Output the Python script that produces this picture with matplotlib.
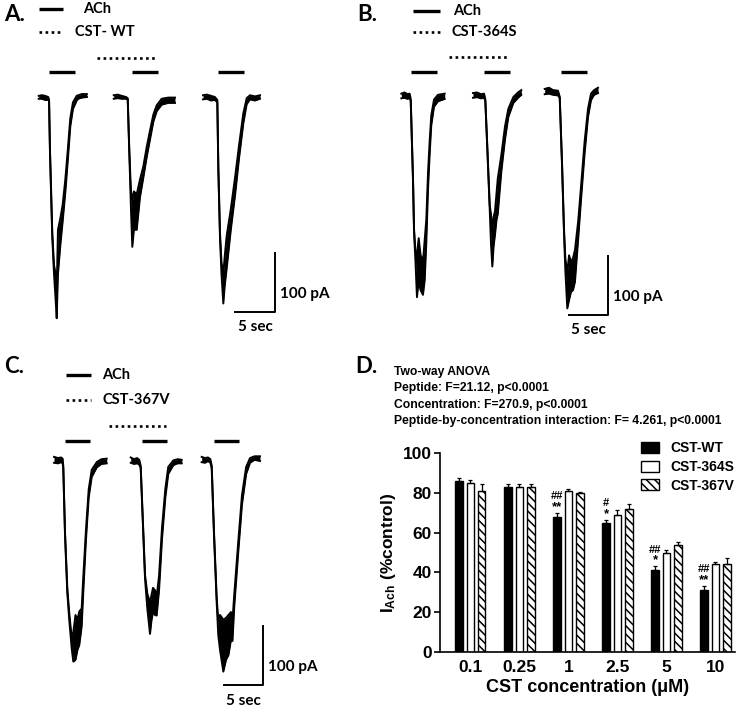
import numpy as np
import matplotlib
matplotlib.use('Agg')
import matplotlib.pyplot as plt

# ---------------- panel D: bar chart data ----------------
concentrations = ['0.1', '0.25', '1', '2.5', '5', '10']
peptides = ['CST-WT', 'CST-364S', 'CST-367V']
wt_mean = [86, 83, 68, 65, 41, 31]
wt_sem = [1.5, 1.2, 2.0, 1.3, 2.0, 2.0]
s364_mean = [85, 83, 81, 69, 50, 44]
s364_sem = [1.5, 1.5, 1.0, 2.3, 1.5, 1.0]
v367_mean = [81, 83, 80, 72, 54, 44]
v367_sem = [3.5, 1.2, 0.6, 2.5, 1.5, 3.0]
wt_star = ['', '', '**', '*', '*', '**']
wt_hash = ['', '', '##', '#', '##', '##']
anova_lines = ['Two-way ANOVA',
               'Peptide: F=21.12, p<0.0001',
               'Concentration: F=270.9, p<0.0001',
               'Peptide-by-concentration interaction: F= 4.261, p<0.0001']

# ---------------- panels A-C: current traces (time s, current pA) ----------------
# each trace: time, upper edge and lower edge of the noisy recording
a1_t = [1.1, 1.5, 1.9, 2.3, 2.41, 2.53, 2.82, 3.04, 3.25, 3.38, 3.54, 3.85, 4.14, 4.47, 4.81, 5.1, 5.44, 5.91, 6.11, 6.58, 7.2]
a1_hi = [2, 3, 2, 0, -4, -90, -230, -285, -300, -330, -225, -205, -182, -140, -85, -36, -9, 2, 3, 5, 5]
a1_lo = [-3, -3, -5, -5, -6, -95, -238, -300, -345, -375, -300, -250, -210, -162, -103, -50, -20, -6, -3, -1, 0]

a2_t = [10.6, 11.1, 11.6, 12.15, 12.37, 12.57, 12.78, 12.95, 13.15, 13.51, 13.92, 14.34, 14.77, 15.19, 15.61, 16.04, 16.67, 17.5, 18.35]
a2_hi = [3, 4, 2, 0, -2, -90, -160, -175, -160, -165, -140, -118, -85, -57, -30, -14, -3, -1, -1]
a2_lo = [-3, -2, -3, -3, -4, -95, -190, -254, -225, -225, -170, -137, -102, -72, -42, -24, -13, -10, -10]

a3_t = [21.9, 22.4, 22.9, 23.4, 23.71, 23.84, 24.05, 24.24, 24.47, 24.65, 24.9, 25.42, 25.97, 26.46, 27.0, 27.43, 27.85, 28.48, 29.11]
a3_hi = [3, 4, 2, 0, -5, -118, -230, -280, -300, -270, -235, -190, -135, -82, -28, -2, 3, 1, 3]
a3_lo = [-4, -3, -6, -5, -9, -124, -240, -300, -350, -320, -290, -225, -165, -104, -45, -12, -4, -6, -3]

b1_t = [0.8, 1.2, 1.6, 1.85, 1.99, 2.28, 2.41, 2.59, 2.78, 3.0, 3.23, 3.54, 3.76, 3.96, 4.18, 4.39, 4.59, 4.94, 5.44, 6.29]
b1_hi = [4, 6, 3, 4, -5, -140, -225, -265, -269, -241, -269, -281, -244, -210, -130, -76, -33, -6, 2, 4]
b1_lo = [-4, -3, -5, -3, -8, -144, -230, -280, -341, -312, -329, -337, -312, -250, -158, -98, -50, -18, -9, -5]

b2_t = [9.87, 10.38, 10.89, 11.27, 11.43, 11.68, 11.99, 12.15, 12.32, 12.48, 12.66, 12.85, 13.01, 13.46, 13.92, 14.34, 14.97, 15.57, 15.99]
b2_hi = [5, 6, 3, 4, -5, -84, -185, -200, -230, -205, -195, -165, -140, -100, -52, -22, -2, 6, 10]
b2_lo = [-3, -2, -4, -3, -8, -88, -192, -250, -289, -255, -235, -210, -200, -128, -74, -36, -12, -3, 2]

b3_t = [18.95, 19.49, 20.0, 20.63, 20.85, 21.14, 21.39, 21.56, 21.81, 22.03, 22.28, 22.53, 22.78, 23.19, 23.58, 24.01, 24.43, 24.81, 25.2, 25.7]
b3_hi = [12, 14, 10, 9, -1, -112, -224, -275, -300, -270, -281, -275, -261, -212, -148, -76, -22, 4, 10, 14]
b3_lo = [3, 4, 2, 1, -3, -116, -230, -295, -360, -346, -332, -329, -315, -242, -170, -96, -36, -7, 2, 5]

c1_t = [0.51, 1.01, 1.4, 1.6, 1.68, 1.9, 2.19, 2.44, 2.75, 2.95, 3.23, 3.48, 3.71, 4.01, 4.22, 4.56, 4.9, 5.28, 5.91, 6.5, 7.18]
c1_hi = [7, 5, 6, 4, -8, -120, -215, -258, -300, -290, -261, -269, -255, -250, -195, -115, -48, -15, -2, 3, 4]
c1_lo = [-3, -4, -2, -4, -12, -126, -224, -270, -318, -340, -337, -320, -312, -280, -220, -132, -62, -27, -11, -5, -4]

c2_t = [10.22, 10.63, 11.01, 11.3, 11.48, 11.73, 12.03, 12.32, 12.66, 12.85, 13.04, 13.29, 13.5, 13.8, 14.18, 14.6, 14.97, 15.61, 16.14, 16.67]
c2_hi = [6, 3, 5, 2, -8, -92, -193, -225, -240, -227, -215, -219, -230, -195, -113, -47, -10, 1, 3, 2]
c2_lo = [-3, -5, -4, -6, -12, -97, -200, -250, -293, -270, -256, -261, -262, -220, -132, -62, -22, -7, -4, -4]

c3_t = [19.2, 19.62, 20.0, 20.3, 20.47, 20.76, 21.1, 21.3, 21.52, 21.94, 22.28, 22.59, 22.91, 23.1, 23.33, 23.8, 24.3, 24.83, 25.32, 25.9, 26.58]
c3_hi = [7, 5, 6, 3, -8, -120, -232, -270, -261, -269, -266, -261, -256, -270, -225, -142, -58, -10, 5, 8, 8]
c3_lo = [-2, -3, 0, -3, -12, -126, -240, -295, -320, -357, -337, -329, -303, -305, -246, -160, -74, -22, -3, 2, 0]

# drug application periods (s)
a_ach = [(2.4, 5.7), (12.9, 16.2), (23.8, 27.1)]
a_cst = (8.5, 16.0)
b_ach = [(2.0, 5.3), (11.3, 14.6), (21.0, 24.3)]
b_cst = (6.8, 14.3)
c_ach = [(1.9, 5.1), (11.6, 14.8), (20.8, 23.9)]
c_cst = (7.5, 14.7)
cst_names = ['CST- WT', 'CST-364S', 'CST-367V']

W, H = 745, 707
KX = 7.9    # px per second
KY = 0.59   # px per pA
TXT = 'Lato'
BAR_FONT = 'Liberation Sans'

fig = plt.figure(figsize=(W / 100, H / 100), dpi=100)


def trace_axes(left, top, width, height, t0, base):
    ax = fig.add_axes([left / W, 1 - (top + height) / H, width / W, height / H])
    ax.set_xlim((left - t0) / KX, (left + width - t0) / KX)
    ax.set_ylim((base - top - height) / KY, (base - top) / KY)
    ax.axis('off')
    return ax


def draw_trace_panel(ax, traces, ach, cst, cst_name, leg, ach_y, cst_y, corner):
    for t, hi, lo in traces:
        ax.fill_between(t, lo, hi, color='black', lw=0)
        ax.plot(t, hi, color='black', lw=1.4)
        ax.plot(t, lo, color='black', lw=1.4)
    for s, e in ach:
        ax.plot([s, e], [ach_y, ach_y], color='black', lw=2.4, solid_capstyle='butt')
    ax.plot(cst, [cst_y, cst_y], color='black', lw=1.9, linestyle=(0, (1, 1.3)))
    # legend
    lx0, lx1, ly0, ly1, tx0, tx1 = leg
    ax.plot([lx0, lx1], [ly0, ly0], color='black', lw=2.4, solid_capstyle='butt')
    ax.plot([lx0, lx1], [ly1, ly1], color='black', lw=1.9, linestyle=(0, (1, 1.3)))
    ax.text(tx0, ly0, 'ACh', fontsize=10.5, fontweight='bold', family=TXT, va='center', ha='left')
    ax.text(tx1, ly1, cst_name, fontsize=10.5, fontweight='bold', family=TXT, va='center', ha='left')
    # scale bar: 5 s x 100 pA
    cx, cy = corner
    ax.plot([cx - 5, cx, cx], [cy, cy, cy + 100], color='black', lw=1.4)
    ax.text(cx + 0.6, cy + 30, '100 pA', fontsize=11, fontweight='bold', family=TXT, va='center', ha='left')
    ax.text(cx - 2.5, cy - 26, '5 sec', fontsize=11, fontweight='bold', family=TXT, va='center', ha='center')


ax_a = trace_axes(0, 0, 372, 345, 30, 97)
draw_trace_panel(ax_a, [(a1_t, a1_hi, a1_lo), (a2_t, a2_hi, a2_lo), (a3_t, a3_hi, a3_lo)],
                 a_ach, a_cst, cst_names[0], (1.1, 4.2, 149, 110, 6.7, 5.7), 42, 66, (31.0, -364))

ax_b = trace_axes(372, 0, 373, 345, 395, 96)
draw_trace_panel(ax_b, [(b1_t, b1_hi, b1_lo), (b2_t, b2_hi, b2_lo), (b3_t, b3_hi, b3_lo)],
                 b_ach, b_cst, cst_names[1], (2.3, 5.7, 144, 108, 7.3, 7.2), 41, 66, (27.0, -371))

ax_c = trace_axes(0, 345, 372, 362, 50, 461)
draw_trace_panel(ax_c, [(c1_t, c1_hi, c1_lo), (c2_t, c2_hi, c2_lo), (c3_t, c3_hi, c3_lo)],
                 c_ach, c_cst, cst_names[2], (2.0, 5.2, 146, 103, 6.6, 6.6), 34, 59, (27.0, -380))

# panel letters
for lab, px, py in [('A.', 4, 4), ('B.', 357, 4), ('C.', 4, 356), ('D.', 355, 356)]:
    fig.text(px / W, 1 - py / H, lab, fontsize=16, fontweight='bold', family=TXT, va='top', ha='left')

# ---------------- panel D ----------------
plt.rcParams['mathtext.fontset'] = 'custom'
plt.rcParams['mathtext.rm'] = BAR_FONT
plt.rcParams['mathtext.bf'] = BAR_FONT + ':bold'
plt.rcParams['mathtext.default'] = 'bf'
plt.rcParams['hatch.linewidth'] = 1.1

ax = fig.add_axes([440 / W, 1 - 652 / H, 295 / W, 199 / H])
x = np.arange(len(concentrations))
step, width = 0.23, 0.157
ekw = dict(ecolor='black', elinewidth=0.9, capsize=1.6, capthick=0.9)
zeros = np.zeros(len(concentrations))
ax.bar(x - step, wt_mean, width, color='black', edgecolor='black', lw=1,
       yerr=[zeros, wt_sem], error_kw=ekw, label=peptides[0])
ax.bar(x, s364_mean, width, color='white', edgecolor='black', lw=1,
       yerr=[zeros, s364_sem], error_kw=ekw, label=peptides[1])
ax.bar(x + step, v367_mean, width, color='white', edgecolor='black', lw=1, hatch='\\\\\\\\',
       yerr=[zeros, v367_sem], error_kw=ekw, label=peptides[2])

for i in range(len(concentrations)):
    top = wt_mean[i] + wt_sem[i]
    if wt_star[i]:
        ax.text(x[i] - step, top + 3.0, wt_star[i], fontsize=9.5, fontweight='bold',
                family=BAR_FONT, ha='center', va='center')
    if wt_hash[i]:
        ax.text(x[i] - step, top + 8.5, wt_hash[i], fontsize=8, fontweight='bold',
                family=BAR_FONT, ha='center', va='center')

ax.set_xlim(-0.62, 5.4)
ax.set_ylim(0, 100)
ax.set_yticks([0, 20, 40, 60, 80, 100])
ax.set_xticks(x)
ax.set_xticklabels(concentrations)
ax.tick_params(axis='x', length=0, pad=6)
ax.tick_params(axis='y', length=4, width=1.2, pad=2)
for lab in ax.get_xticklabels() + ax.get_yticklabels():
    lab.set_fontsize(12.5)
    lab.set_fontweight('bold')
    lab.set_family(BAR_FONT)
for s in ['top', 'right']:
    ax.spines[s].set_visible(False)
for s in ['left', 'bottom']:
    ax.spines[s].set_linewidth(1.2)
ax.set_ylabel(r'I$_{Ach}$ (%control)', fontsize=12.5, fontweight='bold', family=BAR_FONT, labelpad=3)
ax.set_xlabel('CST concentration (\u03bcM)', fontsize=13, fontweight='bold', family=BAR_FONT, labelpad=3)

ax.legend(loc='upper left', bbox_to_anchor=(641 / W, 1 - 441 / H), bbox_transform=fig.transFigure,
          frameon=False, borderpad=0, borderaxespad=0, handlelength=1.3, handleheight=0.85,
          handletextpad=0.8, labelspacing=0.35, prop=dict(family=BAR_FONT, weight='bold', size=10))

for k, line in enumerate(anova_lines):
    fig.text(394 / W, 1 - (372 + 16.3 * k) / H, line, fontsize=8.7, fontweight='bold',
             family=['Liberation Sans Narrow', BAR_FONT], va='center', ha='left')

fig.savefig('out.png', dpi=100)
